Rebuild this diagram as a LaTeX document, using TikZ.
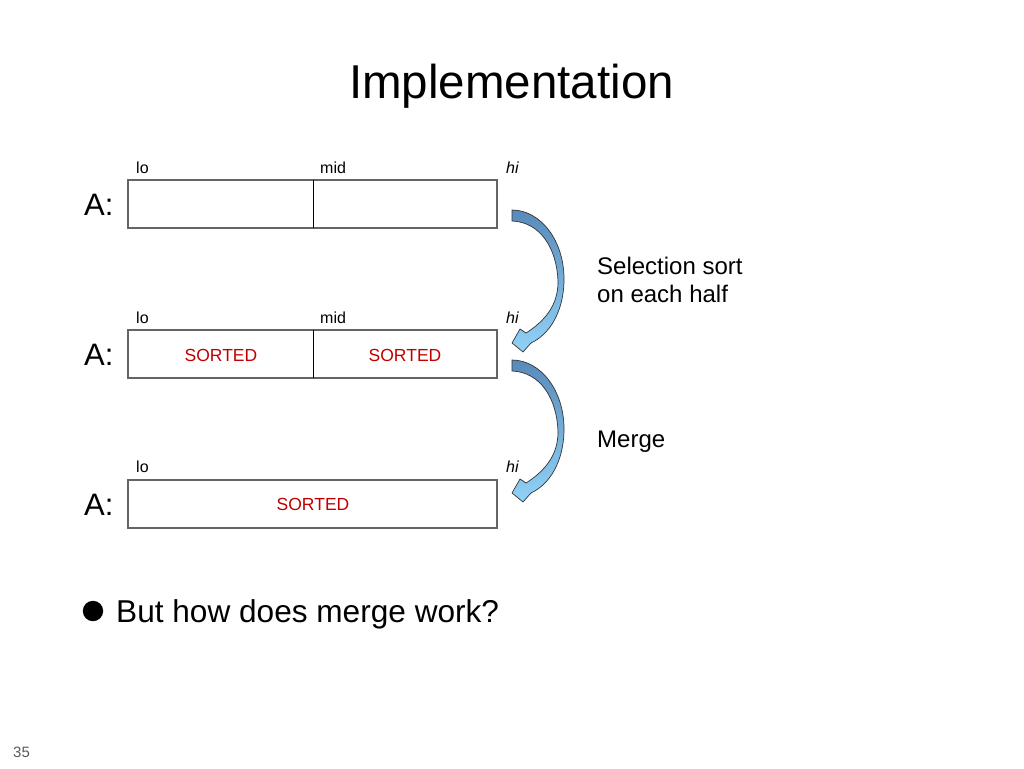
\documentclass[tikz,border=0pt]{standalone}
\usepackage{fontspec}
\setmainfont{Liberation Sans}
\definecolor{sortred}{RGB}{192,0,0}
\definecolor{arrtop}{RGB}{88,138,185}
\definecolor{arrbot}{RGB}{145,210,248}
\definecolor{boxline}{RGB}{100,100,100}
\begin{document}
\begin{tikzpicture}[x=1pt,y=-1pt,
  title/.style={font=\fontsize{47.5}{57}\selectfont, anchor=base, inner sep=0},
  alabel/.style={font=\fontsize{31}{37}\selectfont, anchor=base west, inner sep=0},
  idx/.style={font=\fontsize{16}{19}\selectfont, anchor=base west, inner sep=0},
  sorted/.style={font=\fontsize{17.5}{21}\selectfont, text=sortred, anchor=base, inner sep=0},
  side/.style={font=\fontsize{24}{29}\selectfont, anchor=base west, inner sep=0},
  arr/.style={draw=black!80, line width=0.7pt, top color=arrtop, bottom color=arrbot},
  cell/.style={draw=boxline, line width=1.3pt}]
\useasboundingbox (0,0) rectangle (1024,768);

\node[title] (title) at (511.5,98) {Implementation};

% Row 1
\node[idx] (lo1) at (136,173) {lo};
\node[idx] (mid1) at (320,173) {mid};
\node[idx] (hi1) at (506,173) {\itshape hi};
\node[alabel] (A1) at (84,215) {A:};
\draw[cell] (128,180) rectangle (497,228);
\draw[black, line width=1pt] (313,180) -- (313,228);

% Row 2
\node[idx] (lo2) at (136,323) {lo};
\node[idx] (mid2) at (320,323) {mid};
\node[idx] (hi2) at (506,323) {\itshape hi};
\node[alabel] (A2) at (84,365) {A:};
\draw[cell] (128,330) rectangle (497,378);
\draw[black, line width=1pt] (313,330) -- (313,378);
\node[sorted] (s21) at (221,361) {SORTED};
\node[sorted] (s22) at (405,361) {SORTED};

% Row 3
\node[idx] (lo3) at (136,472) {lo};
\node[idx] (hi3) at (506,472) {\itshape hi};
\node[alabel] (A3) at (84,515) {A:};
\draw[cell] (128,480) rectangle (497,528);
\node[sorted] (s3) at (313,510) {SORTED};

% Curved arrows
\foreach \dy in {0,150}{
  \path[arr] (512,210+\dy) .. controls (540,210+\dy) and (565,240+\dy) .. (564,282+\dy)
    .. controls (563,312+\dy) and (550,334+\dy) .. (531,343+\dy)
    -- (523,352+\dy) -- (512,343+\dy) -- (520,329+\dy) -- (526,333+\dy)
    .. controls (545,321+\dy) and (558,305+\dy) .. (558,282+\dy)
    .. controls (557,248+\dy) and (540,222+\dy) .. (512,221+\dy) -- cycle;
}

\node[side] (sel1) at (597,274) {Selection sort};
\node[side] (sel2) at (597,302) {on each half};
\node[side] (merge) at (597,447) {Merge};

% Bullet
\fill (93,611) circle (10.2);
\node[font=\fontsize{31.6}{38}\selectfont, anchor=base west, inner sep=0] (q) at (116,622) {But how does merge work?};

\node[font=\fontsize{15}{18}\selectfont, text=black!65, anchor=base west, inner sep=0] (pg) at (13,757) {35};
\end{tikzpicture}
\end{document}
